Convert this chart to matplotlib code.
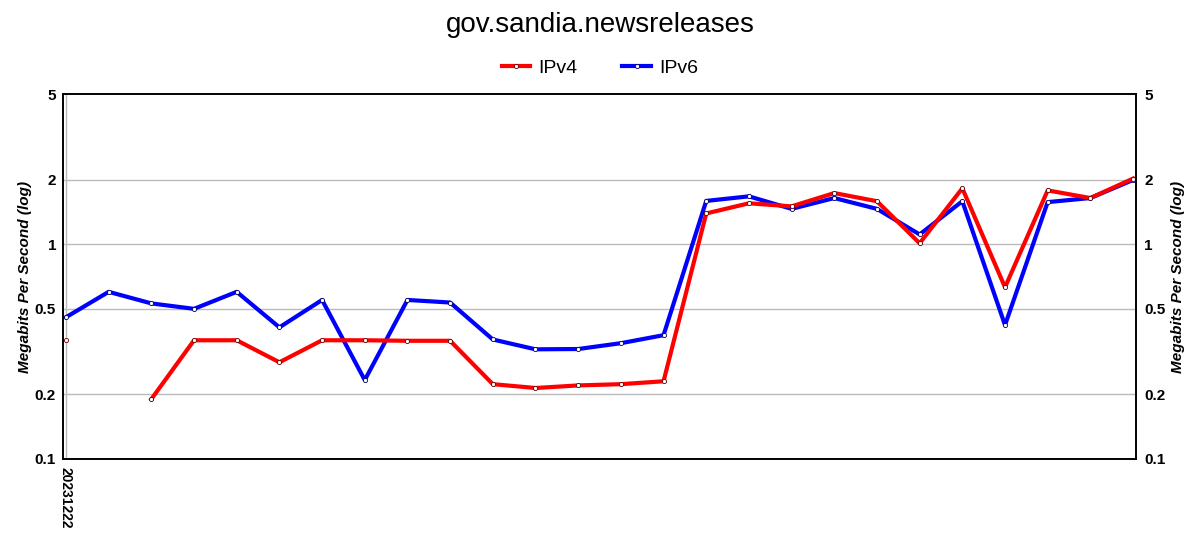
import numpy as np
from matplotlib import pyplot as plt

plt.rcParams['font.family'] = ['Liberation Sans', 'DejaVu Sans']

title = "gov.sandia.newsreleases"
first_label = "20231222"

ipv4 = [0.357, np.nan, 0.19, 0.357, 0.357, 0.282, 0.357, 0.357, 0.355, 0.355,
        0.223, 0.214, 0.22, 0.223, 0.23, 1.39, 1.55, 1.5, 1.73, 1.585,
        1.01, 1.82, 0.63, 1.78, 1.64, 2.02]
ipv6 = [0.457, 0.60, 0.53, 0.50, 0.60, 0.41, 0.55, 0.233, 0.55, 0.535,
        0.36, 0.324, 0.325, 0.346, 0.377, 1.59, 1.67, 1.46, 1.64, 1.46,
        1.11, 1.585, 0.42, 1.57, 1.64, 1.99]

x = np.arange(len(ipv4))

fig = plt.figure(figsize=(12, 5.5), dpi=100)
ax = fig.add_axes([0.0525, 0.1655, 0.8942, 0.6635])

ax.plot(x, ipv4, color='#ff0000', lw=3, label='IPv4', zorder=3,
        marker='o', ms=3, mfc='white', mec='#550000', mew=0.6)
ax.plot(x, ipv6, color='#0000ff', lw=3, label='IPv6', zorder=2,
        marker='o', ms=3, mfc='white', mec='#000055', mew=0.6)

ax.set_yscale('log')
ax.set_ylim(0.1, 5)
ax.set_xlim(-0.07, len(x) - 1 + 0.07)
yt = [0.1, 0.2, 0.5, 1, 2, 5]
ax.set_yticks(yt)
ax.set_yticklabels([str(v) for v in yt])
ax.yaxis.set_minor_locator(plt.NullLocator())
ax.tick_params(axis='y', length=0, labelsize=11, pad=5)
ax.tick_params(axis='y', which='both', right=False, labelright=False)
for v in [0.2, 0.5, 1, 2]:
    ax.axhline(v, color='#bbbbbb', lw=1, zorder=0)
ax.axvline(0, color='#bbbbbb', lw=1, zorder=0)

ax.set_xticks([0])
ax.set_xticklabels([first_label], rotation=-90, fontsize=10, fontweight='bold')
ax.tick_params(axis='x', length=0, pad=6)
for lbl in ax.get_yticklabels():
    lbl.set_fontweight('bold')

ax2 = ax.twinx()
ax2.set_yscale('log')
ax2.set_ylim(0.1, 5)
ax2.set_yticks(yt)
ax2.set_yticklabels([str(v) for v in yt], fontweight='bold')
ax2.yaxis.set_minor_locator(plt.NullLocator())
ax2.tick_params(axis='y', length=0, labelsize=11, pad=6)

ylab = "Megabits Per Second (log)"
ax.set_ylabel(ylab, fontsize=11, fontweight='bold', style='italic', labelpad=2)
ax2.set_ylabel(ylab, fontsize=11, fontweight='bold', style='italic', labelpad=4)

for a in (ax, ax2):
    for s in a.spines.values():
        s.set_linewidth(1.2)
        s.set_color('black')

fig.suptitle(title, fontsize=20, y=0.978)
fig.legend(loc='center', bbox_to_anchor=(0.5, 0.876), ncol=2, frameon=False,
           fontsize=14, handlelength=1.45, handletextpad=0.45, columnspacing=2.3)

plt.savefig('out.png')
